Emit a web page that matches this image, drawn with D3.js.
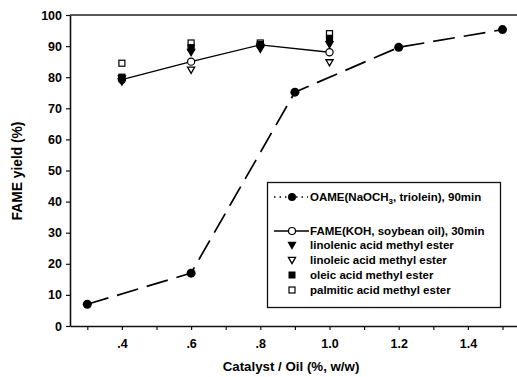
<!DOCTYPE html>
<html>
<head>
<meta charset="utf-8">
<script src="https://cdn.jsdelivr.net/npm/d3@7"></script>
<style>
  html, body { margin: 0; padding: 0; background: #fff; }
  svg { display: block; }
  text { font-family: "Liberation Sans", Arial, sans-serif; fill: #000; }
</style>
</head>
<body>
<svg id="chart" width="517" height="377"></svg>
<script>
// Catalyst loading (% w/w) vs. FAME yield (%)
const oameCatalyst = [0.3, 0.6, 0.9, 1.2, 1.5];
const oameYield    = [7, 17, 75.2, 89.6, 95.3];

const fameCatalyst = [0.4, 0.6, 0.8, 1.0];
const fameYield    = [79.2, 85, 90.4, 88];

const linolenicYield = [78.5, 88, 89, 90.5];
const linoleicYield  = [79.5, 82.3, 89.5, 84.7];
const oleicYield     = [80, 89.5, 90.5, 92.5];
const palmiticYield  = [84.5, 91, 91, 94];

const xTickValues = [0.3, 0.4, 0.5, 0.6, 0.7, 0.8, 0.9, 1.0, 1.1, 1.2, 1.3, 1.4, 1.5];
const xLabelValues = [0.4, 0.6, 0.8, 1.0, 1.2, 1.4];
const yTickValues = [0, 10, 20, 30, 40, 50, 60, 70, 80, 90, 100];

// legend entries as text runs; "sub" runs are drawn as subscripts
const legendLabels = [
  [["OAME(NaOCH", ""], ["3", "sub"], [", triolein), 90min", ""]],
  [["FAME(KOH, soybean oil), 30min", ""]],
  [["linolenic acid methyl ester", ""]],
  [["linoleic acid methyl ester", ""]],
  [["oleic acid methyl ester", ""]],
  [["palmitic acid methyl ester", ""]]
];

const svg = d3.select("#chart");
const x = d3.scaleLinear().domain([0.25, 1.55]).range([70, 519.8]);
const y = d3.scaleLinear().domain([0, 100]).range([326, 15]);

// frame top edge
svg.append("line")
  .attr("x1", 70).attr("x2", 517).attr("y1", y(100)).attr("y2", y(100))
  .attr("stroke", "#222").attr("stroke-width", 1.6);

// axes
const fmtX = v => xLabelValues.some(l => Math.abs(l - v) < 1e-6)
  ? (v < 1 ? d3.format(".1f")(v).replace(/^0/, "") : d3.format(".1f")(v)) : "";

const xAxis = svg.append("g")
  .attr("transform", `translate(0,${y(0)})`)
  .call(d3.axisBottom(x).tickValues(xTickValues).tickFormat(fmtX).tickSize(4).tickSizeOuter(0));
const yAxis = svg.append("g")
  .attr("transform", `translate(${x(0.25)},0)`)
  .call(d3.axisLeft(y).tickValues(yTickValues).tickSize(4).tickSizeOuter(0));

[xAxis, yAxis].forEach(g => {
  g.select(".domain").attr("stroke", "#111").attr("stroke-width", 1.6);
  g.selectAll(".tick line").attr("stroke", "#111").attr("stroke-width", 1.2);
  g.selectAll(".tick text")
    .attr("font-family", "'Liberation Sans', Arial, sans-serif")
    .attr("font-size", 12.5).attr("font-weight", "bold").attr("fill", "#000");
});
xAxis.selectAll(".tick text").attr("dy", "1.2em");
yAxis.selectAll(".tick text").attr("x", -8);

// axis titles
svg.append("text")
  .attr("x", 291).attr("y", 371).attr("text-anchor", "middle")
  .attr("font-size", 13.3).attr("font-weight", "bold")
  .text("Catalyst / Oil (%, w/w)");
svg.append("text")
  .attr("transform", `translate(22,171) rotate(-90)`)
  .attr("text-anchor", "middle")
  .attr("font-size", 13.8).attr("font-weight", "bold")
  .text("FAME yield (%)");

// OAME series: dashed line with filled circles
const oame = oameCatalyst.map((c, i) => ({ c, v: oameYield[i] }));
svg.append("path")
  .datum(oame)
  .attr("fill", "none").attr("stroke", "#000").attr("stroke-width", 1.7)
  .attr("stroke-dasharray", "22,9")
  .attr("d", d3.line().x(d => x(d.c)).y(d => y(d.v)));
svg.selectAll("circle.oame").data(oame).enter().append("circle")
  .attr("class", "oame")
  .attr("cx", d => x(d.c)).attr("cy", d => y(d.v)).attr("r", 4.5)
  .attr("fill", "#000");

// FAME series: solid line with open circles
const fame = fameCatalyst.map((c, i) => ({ c, v: fameYield[i] }));
svg.append("path")
  .datum(fame)
  .attr("fill", "none").attr("stroke", "#000").attr("stroke-width", 1.4)
  .attr("d", d3.line().x(d => x(d.c)).y(d => y(d.v)));
svg.selectAll("circle.fame").data(fame).enter().append("circle")
  .attr("class", "fame")
  .attr("cx", d => x(d.c)).attr("cy", d => y(d.v)).attr("r", 3.6)
  .attr("fill", "#fff").attr("stroke", "#000").attr("stroke-width", 1.2);

// individual methyl esters
const triDown = d3.symbol().type(d3.symbolTriangle).size(22);
function drawEster(values, kind) {
  const pts = fameCatalyst.map((c, i) => ({ c, v: values[i] }));
  const g = svg.append("g");
  if (kind === "triFilled" || kind === "triOpen") {
    g.selectAll("path").data(pts).enter().append("path")
      .attr("d", triDown)
      .attr("transform", d => `translate(${x(d.c)},${y(d.v) - 0.8}) rotate(180)`)
      .attr("fill", kind === "triFilled" ? "#000" : "#fff")
      .attr("stroke", "#000").attr("stroke-width", 1.3);
  } else {
    g.selectAll("rect").data(pts).enter().append("rect")
      .attr("x", d => x(d.c) - 3).attr("y", d => y(d.v) - 3)
      .attr("width", 6).attr("height", 6)
      .attr("fill", kind === "sqFilled" ? "#000" : "#fff")
      .attr("stroke", "#000").attr("stroke-width", 1.2);
  }
}
drawEster(palmiticYield, "sqOpen");
drawEster(linoleicYield, "triOpen");
drawEster(oleicYield, "sqFilled");
drawEster(linolenicYield, "triFilled");

// legend
const lg = svg.append("g");
lg.append("rect")
  .attr("x", 267.5).attr("y", 182.5).attr("width", 233).attr("height", 125)
  .attr("fill", "#fff").attr("stroke", "#111").attr("stroke-width", 1.3);
const rowY = [197, 231, 245, 260, 275, 290];
const symX = 292, textX = 310;
// row 0: dotted line with filled circle
lg.append("line").attr("x1", 274).attr("x2", 308).attr("y1", rowY[0]).attr("y2", rowY[0])
  .attr("stroke", "#000").attr("stroke-width", 1.4).attr("stroke-dasharray", "1.5,4");
lg.append("circle").attr("cx", symX).attr("cy", rowY[0]).attr("r", 4).attr("fill", "#000");
// row 1: solid line with open circle
lg.append("line").attr("x1", 274).attr("x2", 309).attr("y1", rowY[1]).attr("y2", rowY[1])
  .attr("stroke", "#000").attr("stroke-width", 1.3);
lg.append("circle").attr("cx", symX).attr("cy", rowY[1]).attr("r", 3.5)
  .attr("fill", "#fff").attr("stroke", "#000").attr("stroke-width", 1.2);
// rows 2-5: ester markers
lg.append("path").attr("d", triDown)
  .attr("transform", `translate(${symX},${rowY[2] - 0.5}) rotate(180)`)
  .attr("fill", "#000").attr("stroke", "#000").attr("stroke-width", 1.2);
lg.append("path").attr("d", triDown)
  .attr("transform", `translate(${symX},${rowY[3] - 0.5}) rotate(180)`)
  .attr("fill", "#fff").attr("stroke", "#000").attr("stroke-width", 1.3);
lg.append("rect").attr("x", symX - 3).attr("y", rowY[4] - 3).attr("width", 6).attr("height", 6)
  .attr("fill", "#000").attr("stroke", "#000");
lg.append("rect").attr("x", symX - 3).attr("y", rowY[5] - 3).attr("width", 6).attr("height", 6)
  .attr("fill", "#fff").attr("stroke", "#000").attr("stroke-width", 1.2);

const legText = lg.selectAll("text.leg").data(legendLabels).enter().append("text")
  .attr("class", "leg")
  .attr("x", textX).attr("y", (d, i) => rowY[i]).attr("dy", "0.35em")
  .attr("font-size", 11.5).attr("font-weight", "bold");
legText.selectAll("tspan").data(d => d).enter().append("tspan")
  .attr("font-size", d => d[1] === "sub" ? 8 : null)
  .attr("dy", (d, i, n) => d[1] === "sub" ? 3 : (i > 0 && n[i - 1].__data__[1] === "sub" ? -3 : null))
  .text(d => d[0]);
</script>
</body>
</html>
